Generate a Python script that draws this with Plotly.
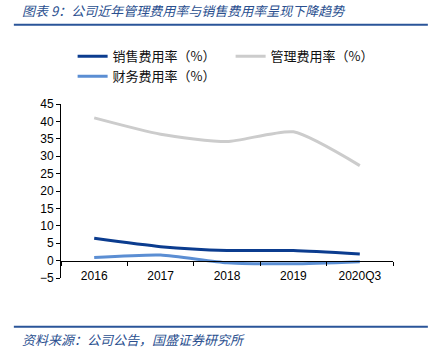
import plotly.graph_objects as go

categories = ["2016", "2017", "2018", "2019", "2020Q3"]
sales_rate = [6.4, 4.0, 2.9, 2.9, 1.9]
mgmt_rate = [41.0, 36.3, 34.2, 37.0, 27.3]
fin_rate = [0.9, 1.6, -0.6, -0.9, -0.3]

names = ["销售费用率（%）", "管理费用率（%）", "财务费用率（%）"]
colors = ["#0b3c8f", "#cccccc", "#5b8ed3"]

fig = go.Figure()
for vals, nm, c in zip([sales_rate, mgmt_rate, fin_rate], names, colors):
    fig.add_trace(go.Scatter(x=categories, y=vals, name=nm, mode="lines",
                             line=dict(color=c, width=3, shape="spline", smoothing=0.6)))
# invisible trace to bind the zero-line category axis
fig.add_trace(go.Scatter(x=categories, y=[None]*5, xaxis="x2", showlegend=False,
                         hoverinfo="skip", mode="lines"))

font_main = "Liberation Sans, Arial, sans-serif"
cjk = "Noto Sans CJK SC"

fig.update_layout(
    width=436, height=357,
    margin=dict(l=61, r=43, t=104, b=79, autoexpand=False),
    paper_bgcolor="white", plot_bgcolor="white",
    font=dict(family=font_main, size=12, color="black"),
    xaxis=dict(type="category", range=[-0.5, 4.5], showline=False, ticks="",
               anchor="free", position=0.063,
               showgrid=False, zeroline=False,
               tickfont=dict(family=font_main, size=12, color="black")),
    xaxis2=dict(type="category", range=[-0.5, 4.5], overlaying="x", anchor="free",
                position=0.1, showline=True, linecolor="black", linewidth=1,
                ticks="outside", tickson="boundaries", ticklen=4, tickcolor="black",
                showticklabels=False, showgrid=False, zeroline=False),
    yaxis=dict(range=[-5, 45], dtick=5, showline=True, linecolor="black", linewidth=1,
               ticks="outside", ticklen=4, tickcolor="black", showgrid=False,
               zeroline=False, tickfont=dict(family=font_main, size=12, color="black")),
    legend=dict(orientation="h", x=0.035, y=1.36, xanchor="left", yanchor="top",
                font=dict(family=cjk, size=13, color="#111111"),
                entrywidth=113, entrywidthmode="pixels", bgcolor="rgba(0,0,0,0)",
                tracegroupgap=0, itemwidth=30),
    showlegend=True,
)

# header and footer rules
fig.add_shape(type="line", xref="paper", yref="paper", x0=-0.142, x1=1.105,
              y0=1.456, y1=1.456, line=dict(color="#2a5599", width=2))
fig.add_shape(type="line", xref="paper", yref="paper", x0=-0.142, x1=1.105,
              y0=-0.28, y1=-0.28, line=dict(color="#2a5599", width=2))

fig.add_annotation(xref="paper", yref="paper", x=-0.125, y=1.535, xanchor="left",
                   yanchor="middle", showarrow=False,
                   text="<i>图表 9：公司近年管理费用率与销售费用率呈现下降趋势</i>",
                   font=dict(family=cjk, size=13, color="#2a4f8f"))
fig.add_annotation(xref="paper", yref="paper", x=-0.125, y=-0.29, xanchor="left",
                   yanchor="top", showarrow=False,
                   text="<i>资料来源：公司公告，国盛证券研究所</i>",
                   font=dict(family=cjk, size=13, color="#2a4f8f"))

fig.write_html("out.html", config={"displayModeBar": False},
               post_script="document.body.style.margin='0';document.body.style.overflow='hidden';")
